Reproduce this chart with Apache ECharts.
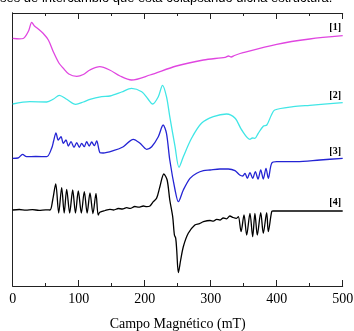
<!DOCTYPE html>
<html>
<head>
<meta charset="utf-8">
<script src="https://cdn.jsdelivr.net/npm/echarts@6/dist/echarts.min.js"></script>
<style>
  html, body { margin: 0; padding: 0; background: #fff; }
  #chart { width: 354px; height: 331px; }
</style>
</head>
<body>
<div id="chart"></div>
<script>
// field in mT, signal in arbitrary offset units (curves stacked)
const field1 = [0, 10, 16, 24, 28.8, 33, 38.8, 46, 54, 61.5, 70, 76.7, 85, 97, 107, 117, 132, 147, 162.6, 180, 208, 248, 289, 322, 327, 331, 336, 349, 400, 450, 500]
const signal1 = [247.7, 247.2, 247.5, 255, 263.7, 260, 257, 252.7, 246, 234.3, 223, 217.7, 212, 209.7, 211.5, 216, 219.3, 216, 210, 206, 211, 220, 226, 228.7, 230, 229, 230.5, 233.3, 241.7, 247, 250.3]

const field2 = [0, 26, 51.5, 62, 70.6, 81.8, 95.4, 107, 117, 134.8, 147.4, 165, 180, 195.5, 205, 212, 220.6, 227, 233, 238, 246, 252, 258.5, 271, 286, 304, 324, 337, 347, 359.5, 363, 367, 372, 380, 385, 392, 397, 425, 450, 500]
const signal2 = [182, 184.3, 184, 187, 190.7, 186.7, 181.7, 184, 186.7, 189.3, 190, 194, 197.7, 194.3, 187, 182, 189.3, 200.7, 189.3, 169.3, 139.3, 118.7, 129.3, 147.7, 162.7, 169.3, 172, 167.7, 156, 146.7, 148, 147.7, 152.7, 160, 161, 171, 176, 179.3, 180.7, 183.3]

const field3 = [0, 8, 15, 21, 35, 51.5, 59, 62, 65.6, 69, 73.2, 76.7, 80.8, 84.3, 88.3, 92.9, 97, 101, 104.5, 108.5, 112, 116, 119.7, 123.6, 127.3, 132.3, 137, 152.4, 167.6, 182.7, 193, 203, 210.6, 220.6, 228, 233, 238, 246, 251, 258.5, 268.6, 278.8, 289, 299, 314, 326.7, 336.8, 344, 348.5, 352, 355.5, 359.5, 363.6, 367.6, 371.7, 375.8, 379.7, 383.8, 387.3, 392.4, 400, 430, 465.6, 500]
const signal3 = [127.7, 128, 131.7, 129.3, 129.5, 129.3, 137.7, 145, 153, 146, 149.3, 142.7, 146, 140, 144.3, 138.7, 143.3, 138.7, 142.7, 139.3, 144.3, 140, 144, 140.3, 145, 133.3, 133, 135.3, 139.3, 146.7, 142.7, 136.7, 139.3, 149.3, 161, 152.7, 126, 96, 84.3, 96, 107.7, 112.7, 115.3, 116, 117, 117, 115.3, 111, 110, 112.7, 107.7, 113.3, 107.7, 114.3, 107, 116, 107, 117.7, 107.7, 122.7, 124.3, 124.3, 126, 127.7]

const field4 = [0, 10, 20, 30, 40, 50, 56.5, 60.6, 65.2, 69.7, 74.2, 78, 81.8, 86.3, 90.9, 95.1, 99.4, 104, 108.5, 112.8, 117.1, 121.6, 126.2, 129.5, 132, 140, 147.4, 153, 160, 166, 172.7, 178, 185, 191, 198, 203, 208, 213, 218, 223, 229, 234, 238, 242.4, 245, 247, 248.5, 251, 254.5, 258.5, 266, 276, 283, 289, 299, 304, 309, 314, 319, 324, 329, 334, 339, 341.9, 346, 350.5, 354.5, 359.5, 363.6, 367, 370.6, 375.8, 379.7, 384.8, 387.3, 392.4, 394.8, 500]
const signal4 = [76, 76.5, 75.8, 76.3, 75.7, 76.2, 76, 86, 102, 73, 98.3, 73, 96.7, 73, 96, 73, 95, 73, 94.3, 73, 93, 72.5, 92.7, 71, 73.7, 75.5, 76.7, 76, 77.5, 77, 78.3, 77.6, 79.5, 78.8, 80, 79.3, 80, 84.3, 87.7, 99.3, 112, 106, 86, 69.3, 51, 47.7, 36, 13.3, 26, 39.3, 52.7, 61, 62.3, 64.3, 65.5, 64.8, 66.7, 66, 68, 67.2, 70, 68.5, 67.7, 69.3, 54.3, 71, 51, 72.7, 49.3, 72.7, 51, 73.3, 52.7, 73.3, 54.3, 74.3, 75, 75]

const tags = ['[1]', '[2]', '[3]', '[4]']
const colors = ['#e046e0', '#40e6e6', '#2424d4', '#000000']

const pairs = (xs, ys) => xs.map((x, i) => [x, ys[i]])
const curves = [pairs(field1, signal1), pairs(field2, signal2), pairs(field3, signal3), pairs(field4, signal4)]
const tagY = [28, 96, 152, 203]

const chart = echarts.init(document.getElementById('chart'))

const xBase = {
  type: 'value', min: 0, max: 500, interval: 100,
  axisLine: { show: true, onZero: false, lineStyle: { color: '#222', width: 1 } },
  axisTick: { show: true, inside: true, length: 6, lineStyle: { color: '#222' } },
  minorTick: { show: true, splitNumber: 2, length: 3, lineStyle: { color: '#222' } },
  splitLine: { show: false },
}

chart.setOption({
  animation: false,
  grid: { left: 12.7, right: 11.3, top: 13, bottom: 45, outerBoundsMode: 'none', containLabel: false },
  xAxis: [
    {
      ...xBase, position: 'bottom',
      axisLabel: { color: '#000', fontFamily: 'Liberation Serif', fontSize: 14, margin: 6 },
      name: 'Campo Magnético (mT)', nameLocation: 'middle', nameGap: 31,
      nameTextStyle: { color: '#000', fontFamily: 'Liberation Serif', fontSize: 14 },
    },
    { ...xBase, position: 'top', axisLabel: { show: false } },
  ],
  yAxis: [
    { type: 'value', min: 0, max: 273, position: 'left', axisLine: { show: true, lineStyle: { color: '#222' } }, axisTick: { show: false }, axisLabel: { show: false }, splitLine: { show: false } },
    { type: 'value', min: 0, max: 273, position: 'right', axisLine: { show: true, lineStyle: { color: '#222' } }, axisTick: { show: false }, axisLabel: { show: false }, splitLine: { show: false } },
  ],
  series: curves.map((d, i) => ({
    type: 'line', data: d, showSymbol: false, smooth: 0.3,
    lineStyle: { color: colors[i], width: 1.3 },
  })),
  graphic: [
    {
      type: 'text', left: 0, top: -8,
      style: { text: 'ses de intercambio que está colapsando dicha estructura.', font: '13px "Liberation Sans"', fill: '#000' },
    },
    ...tags.map((t, i) => ({
      type: 'text', right: 13, top: tagY[i] - 6,
      style: { text: t, font: 'bold 10px "Liberation Serif"', fill: '#000' },
    })),
  ],
})
</script>
</body>
</html>
